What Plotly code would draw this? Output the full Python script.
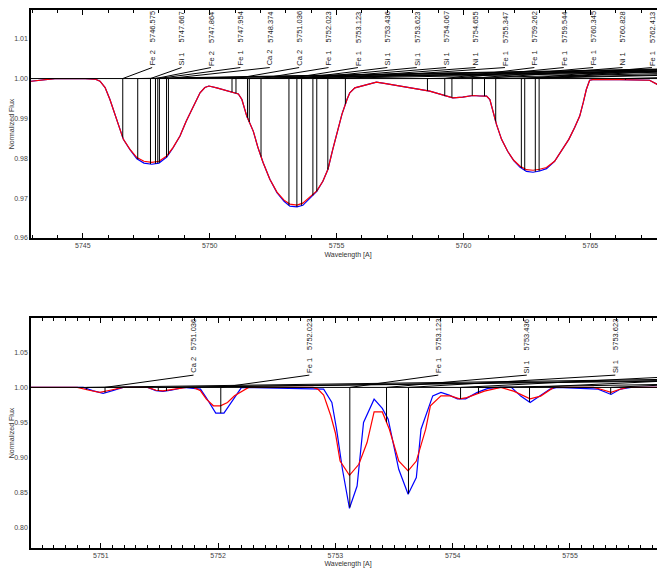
import numpy as np
import plotly.graph_objects as go

# ---------------- data ----------------
# Top panel: broad-resolution spectrum (model = red, observed = blue)
top_wl = [5742.96, 5743.50, 5743.90, 5745.10, 5745.48, 5745.68, 5745.88, 5746.07, 5746.27, 5746.47,
          5746.60, 5746.86, 5747.13, 5747.41, 5747.72, 5748.00, 5748.31, 5748.56, 5748.83, 5749.07,
          5749.35, 5749.62, 5749.81, 5749.97, 5750.28, 5750.60, 5750.88, 5751.13, 5751.27, 5751.46,
          5751.72, 5751.90, 5752.10, 5752.37, 5752.65, 5752.93, 5753.16, 5753.44, 5753.67, 5753.95,
          5754.22, 5754.46, 5754.66, 5754.85, 5755.05, 5755.21, 5755.41, 5755.52, 5755.72, 5756.11,
          5756.57, 5756.94, 5757.36, 5757.73, 5758.15, 5758.67, 5758.99, 5759.26, 5759.58, 5759.97,
          5760.37, 5760.64, 5760.91, 5761.04, 5761.15, 5761.30, 5761.50, 5761.74, 5761.98, 5762.22,
          5762.48, 5762.74, 5763.00, 5763.27, 5763.59, 5763.91, 5764.15, 5764.38, 5764.58, 5764.72,
          5764.84, 5764.97, 5765.09, 5766.15, 5767.33, 5767.65, 5767.95]
top_model = [0.99933, 0.99963, 1.00000, 1.00000, 0.99988, 0.99933, 0.99775, 0.99475, 0.99100, 0.98725,
             0.98475, 0.98225, 0.98017, 0.97925, 0.97900, 0.97925, 0.98058, 0.98275, 0.98558, 0.98925,
             0.99308, 0.99643, 0.99775, 0.99813, 0.99768, 0.99713, 0.99663, 0.99613, 0.99475, 0.99058,
             0.98675, 0.98275, 0.97900, 0.97475, 0.97150, 0.96950, 0.96850, 0.96825, 0.96875, 0.97025,
             0.97183, 0.97425, 0.97725, 0.98225, 0.98675, 0.99100, 0.99475, 0.99643, 0.99768, 0.99838,
             0.99908, 0.99875, 0.99825, 0.99775, 0.99743, 0.99683, 0.99625, 0.99558, 0.99518, 0.99533,
             0.99575, 0.99563, 0.99558, 0.99475, 0.99225, 0.98850, 0.98475, 0.98175, 0.97950, 0.97808,
             0.97713, 0.97700, 0.97725, 0.97768, 0.97925, 0.98225, 0.98475, 0.98775, 0.99058, 0.99400,
             0.99725, 0.99958, 0.99975, 0.99975, 0.99958, 0.99850, 0.99768]
top_obs = [0.99933, 0.99963, 1.00000, 1.00000, 0.99988, 0.99933, 0.99775, 0.99475, 0.99100, 0.98725,
           0.98475, 0.98215, 0.97990, 0.97880, 0.97850, 0.97880, 0.98030, 0.98265, 0.98558, 0.98925,
           0.99308, 0.99643, 0.99775, 0.99813, 0.99768, 0.99713, 0.99663, 0.99613, 0.99475, 0.99058,
           0.98675, 0.98275, 0.97900, 0.97475, 0.97140, 0.96920, 0.96800, 0.96780, 0.96820, 0.96990,
           0.97170, 0.97425, 0.97725, 0.98225, 0.98675, 0.99100, 0.99475, 0.99643, 0.99768, 0.99838,
           0.99908, 0.99875, 0.99825, 0.99775, 0.99743, 0.99683, 0.99625, 0.99558, 0.99518, 0.99533,
           0.99575, 0.99563, 0.99558, 0.99475, 0.99225, 0.98850, 0.98475, 0.98175, 0.97940, 0.97780,
           0.97670, 0.97650, 0.97680, 0.97740, 0.97925, 0.98225, 0.98475, 0.98775, 0.99058, 0.99400,
           0.99725, 0.99958, 0.99975, 0.99975, 0.99958, 0.99850, 0.99768]

# Bottom panel: high-resolution spectrum
bot_model_wl = [5750.40, 5750.80, 5750.90, 5750.99, 5751.08, 5751.19, 5751.40, 5751.47, 5751.53, 5751.60,
                5751.73, 5751.79, 5751.85, 5751.90, 5751.96, 5752.02, 5752.08, 5752.14, 5752.19, 5752.26,
                5752.81, 5752.85, 5752.90, 5752.96, 5753.00, 5753.04, 5753.12, 5753.20, 5753.27, 5753.33,
                5753.40, 5753.46, 5753.54, 5753.62, 5753.69, 5753.77, 5753.81, 5753.90, 5753.98, 5754.06,
                5754.12, 5754.27, 5754.41, 5754.52, 5754.66, 5754.75, 5754.86, 5755.20, 5755.27, 5755.35,
                5755.42, 5755.49, 5755.85]
bot_model = [1.0000, 1.0000, 0.9960, 0.9929, 0.9960, 1.0000, 1.0000, 0.9960, 0.9952, 0.9965,
             1.0000, 1.0000, 0.9952, 0.9833, 0.9738, 0.9738, 0.9786, 0.9880, 0.9929, 1.0000,
             1.0000, 0.9976, 0.9890, 0.9600, 0.9350, 0.8950, 0.8747, 0.8904, 0.9214, 0.9650,
             0.9650, 0.9404, 0.8952, 0.8810, 0.8950, 0.9404, 0.9738, 0.9880, 0.9880, 0.9837,
             0.9855, 0.9947, 1.0000, 0.9947, 0.9837, 0.9876, 1.0000, 1.0000, 0.9970, 0.9929,
             0.9970, 1.0000, 1.0000]
bot_obs_wl = [5750.40, 5750.85, 5750.93, 5751.02, 5751.10, 5751.19, 5751.40, 5751.47, 5751.53, 5751.60,
              5751.71, 5751.85, 5751.90, 5751.98, 5752.05, 5752.13, 5752.20, 5752.90, 5752.97, 5753.01,
              5753.06, 5753.12, 5753.185, 5753.24, 5753.33, 5753.40, 5753.45, 5753.54, 5753.62, 5753.69,
              5753.73, 5753.83, 5753.90, 5753.97, 5754.04, 5754.11, 5754.21, 5754.30, 5754.41, 5754.50,
              5754.58, 5754.66, 5754.75, 5754.83, 5754.89, 5755.24, 5755.35, 5755.43, 5755.52, 5755.85]
bot_obs = [1.0000, 1.0000, 0.9955, 0.9914, 0.9955, 1.0000, 1.0000, 0.9955, 0.9943, 0.9960,
           1.0000, 0.9976, 0.9852, 0.9633, 0.9633, 0.9833, 1.0000, 0.9976, 0.9786, 0.9404,
           0.8833, 0.8276, 0.8594, 0.9500, 0.9833, 0.9700, 0.9547, 0.8833, 0.8476, 0.8714,
           0.9404, 0.9880, 0.9929, 0.9890, 0.9837, 0.9837, 0.9929, 0.9986, 1.0000, 1.0000,
           0.9876, 0.9786, 0.9880, 0.9976, 1.0000, 0.9976, 0.9900, 0.9976, 1.0000, 1.0000]

# Identified lines (labelled list first, then weaker lines)
strong_wl = [5746.575, 5747.667, 5747.864, 5747.954, 5748.374, 5751.036, 5752.023, 5753.123, 5753.436,
             5753.623, 5754.067, 5754.655, 5755.347, 5759.262, 5759.544, 5760.345, 5760.828, 5762.413,
             5762.83, 5762.98]
strong_ion = ["Fe 2", "Si 1", "Fe 2", "Fe 1", "Ca 2", "Ca 2", "Fe 1", "Fe 1", "Si 1",
              "Si 1", "Si 1", "Ni 1", "Fe 1", "Fe 1", "Fe 1", "Fe 1", "Ni 1", "Fe 1",
              "Fe 1", "Fe 1"]
weak_wl = [5747.165, 5748.02, 5748.30, 5750.88, 5751.49, 5751.56, 5754.22, 5758.58, 5761.27,
           5762.28, 5766.38]

top_xticks = [5745, 5750, 5755, 5760, 5765]
top_yticks = [0.96, 0.97, 0.98, 0.99, 1.00, 1.01]
bot_xticks = [5751, 5752, 5753, 5754, 5755]
bot_yticks = [0.80, 0.85, 0.90, 0.95, 1.00, 1.05]

# ---------------- layout parameters ----------------
# the page body has an 8 px margin, so the figure is 8 px smaller than the window
W, H = 657, 560
ML, MR, MT, MB = 23, 0, 2, 20
plot_w = W - ML - MR
plot_h = H - MT - MB
top_px = (2, 230)
bot_px = (310, 540)
top_dom = [(H - MB - top_px[1]) / plot_h, (H - MB - top_px[0]) / plot_h]
bot_dom = [(H - MB - bot_px[1]) / plot_h, (H - MB - bot_px[0]) / plot_h]

top_xr = [5742.96, 5767.94]
top_yr = [0.96, 1.0172]
bot_xr = [5750.405, 5755.81]
bot_yr = [0.771, 1.099]

fig = go.Figure()

BLUE = "#0000ff"
RED = "#ff0000"
LABFONT = dict(family="Liberation Sans", size=7.5, color="#222")


def panel(xa, ya, xr, yr, dom_px, wl_o, fl_o, wl_m, fl_m, spacing_px, lab_dy_px, txt_dy_px):
    pxx = plot_w / (xr[1] - xr[0])
    pxy = (dom_px[1] - dom_px[0]) / (yr[1] - yr[0])
    spacing = spacing_px / pxx
    lab_y = 1.0 + lab_dy_px / pxy
    txt_y = lab_y + txt_dy_px / pxy

    fig.add_trace(go.Scatter(x=wl_o, y=fl_o, mode="lines", line=dict(color=BLUE, width=1.2),
                             xaxis=xa, yaxis=ya, showlegend=False, hoverinfo="skip"))
    fig.add_trace(go.Scatter(x=wl_m, y=fl_m, mode="lines", line=dict(color=RED, width=1.2),
                             xaxis=xa, yaxis=ya, showlegend=False, hoverinfo="skip"))

    # only lines inside the plotted range take part in the label layout
    order = [(w, i) for w, i in zip(strong_wl, strong_ion) if xr[0] <= w <= xr[1]]
    order += [(w, None) for w in weak_wl if xr[0] <= w <= xr[1]]
    prev = -1e9
    lx, ly = [], []
    for w, ion in order:
        p = max(w, prev) + spacing
        prev = p
        depth = min(np.interp(w, wl_o, fl_o), np.interp(w, wl_m, fl_m))
        lx += [w, w, None]
        ly += [1.0, depth, None]
        lx += [w, p, None]
        ly += [1.0, lab_y, None]
        if ion is not None and xr[0] < p < xr[1] - 0.3 * spacing:
            fig.add_annotation(x=p, y=lab_y, xref=xa, yref=ya, text=ion, textangle=-90,
                               showarrow=False, xanchor="center", yanchor="bottom", font=LABFONT)
            fig.add_annotation(x=p, y=txt_y, xref=xa, yref=ya, text=f"{w:.3f}", textangle=-90,
                               showarrow=False, xanchor="center", yanchor="bottom", font=LABFONT)
    fig.add_trace(go.Scatter(x=lx, y=ly, mode="lines", line=dict(color="black", width=1),
                             xaxis=xa, yaxis=ya, showlegend=False, hoverinfo="skip"))
    fig.add_shape(type="line", xref=f"{xa} domain", x0=0, x1=1, yref=ya, y0=1.0, y1=1.0,
                  line=dict(color="black", width=1))


panel("x", "y", top_xr, top_yr, top_px, top_wl, top_obs, top_wl, top_model, 29.4, 11, 23)
panel("x2", "y2", bot_xr, bot_yr, bot_px, bot_obs_wl, bot_obs, bot_model_wl, bot_model, 88.5, 12.3, 23)

tickfont = dict(family="Liberation Sans", size=7, color="#444")
titlefont = dict(family="Liberation Sans", size=7, color="#333")


def xax(xr, ticks, anchor, minor_dt):
    return dict(domain=[0, 1], range=xr, anchor=anchor, tickvals=ticks,
                ticktext=[str(t) for t in ticks], ticks="inside", ticklen=5, tickwidth=1,
                tickcolor="black", showline=True, linecolor="black", linewidth=1.5,
                mirror="allticks", showgrid=False, zeroline=False, tickfont=tickfont,
                minor=dict(dtick=minor_dt, tick0=ticks[0], ticks="inside", ticklen=3, tickcolor="black"),
                title=dict(text="Wavelength [A]", font=titlefont, standoff=4), automargin=False)


def yax(dom, yr, ticks, anchor):
    return dict(domain=dom, range=yr, anchor=anchor, tickvals=ticks,
                ticktext=[f"{t:.2f}" for t in ticks], ticks="", showline=True, linecolor="black",
                linewidth=1.5, mirror=False, showgrid=False, zeroline=False, tickfont=tickfont,
                title=dict(text="Normalized Flux", font=titlefont, standoff=1), automargin=False)


fig.update_layout(
    width=W, height=H,
    margin=dict(l=ML, r=MR, t=MT, b=MB),
    paper_bgcolor="white", plot_bgcolor="white",
    xaxis=xax(top_xr, top_xticks, "y", 1),
    yaxis=yax(top_dom, top_yr, top_yticks, "x"),
    xaxis2=xax(bot_xr, bot_xticks, "y2", 0.1),
    yaxis2=yax(bot_dom, bot_yr, bot_yticks, "x2"),
    showlegend=False,
)

fig.write_html("out.html")
